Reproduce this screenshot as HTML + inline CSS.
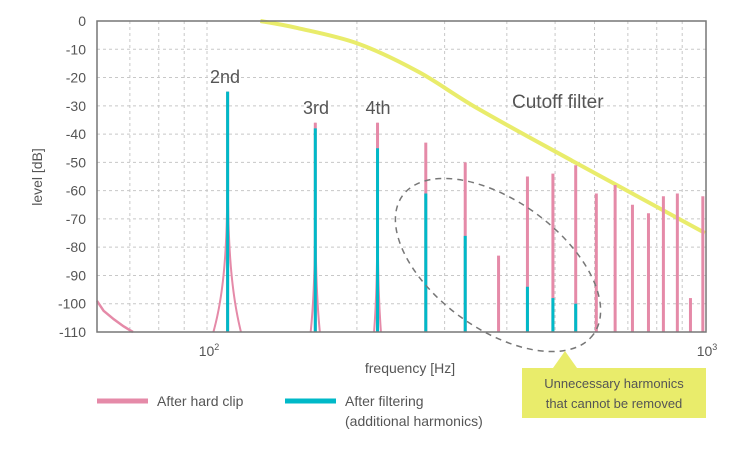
<!DOCTYPE html>
<html><head><meta charset="utf-8"><style>
body{margin:0;background:#fff;width:750px;height:450px;overflow:hidden;font-family:"Liberation Sans",sans-serif}
text{font-family:"Liberation Sans",sans-serif}
</style></head><body>
<svg id="chart" width="750" height="450" xmlns="http://www.w3.org/2000/svg">
<g id="grid"></g>
<g id="marks"></g>
<rect x="97" y="21" width="609" height="311" fill="none" stroke="#777" stroke-width="1.5"/>
<g id="axes"></g>
<text x="410" y="373" font-size="14" fill="#555" text-anchor="middle">frequency [Hz]</text>
<text transform="translate(42,177) rotate(-90)" font-size="14" fill="#555" text-anchor="middle">level [dB]</text>
<text x="225" y="83" font-size="18" fill="#555" text-anchor="middle">2nd</text>
<text x="316" y="114" font-size="18" fill="#555" text-anchor="middle">3rd</text>
<text x="378" y="114" font-size="18" fill="#555" text-anchor="middle">4th</text>
<text x="512" y="108" font-size="19" fill="#555">Cutoff filter</text>
<ellipse cx="498" cy="265" rx="118" ry="64" transform="rotate(36 498 265)" fill="none" stroke="#777" stroke-width="1.5" stroke-dasharray="6,5"/>
<g>
<polygon points="553,368 565,351 577,368" fill="#e9ec6b"/>
<rect x="522" y="368" width="184" height="50" fill="#e9ec6b"/>
<text x="614" y="388" font-size="13" fill="#555" text-anchor="middle">Unnecessary harmonics</text>
<text x="614" y="408" font-size="13" fill="#555" text-anchor="middle">that cannot be removed</text>
</g>
<g>
<line x1="97" y1="401" x2="148" y2="401" stroke="#e58aa8" stroke-width="5"/>
<text x="157" y="406" font-size="14" fill="#555">After hard clip</text>
<line x1="285" y1="401" x2="336" y2="401" stroke="#00b9c8" stroke-width="5"/>
<text x="345" y="406" font-size="14" fill="#555">After filtering</text>
<text x="345" y="426" font-size="14" fill="#555">(additional harmonics)</text>
</g>
</svg>
<script>
const fundamental = 55;
const harmonicNumbers = [2,3,4,5,6,7,8,9,10,11,12,13,14,15,16,17,18];
const clipLevels = [-25,-36,-36,-43,-50,-83,-55,-54,-51,-61,-58,-65,-68,-62,-61,-98,-62];
const filteredLevels = [-25,-38,-45,-61,-76,null,-94,-98,-100,null,null,null,null,null,null,null,null];
const skirtHalfWidthHz = [7,3.5,3.5];
const fundamentalSkirtF = [59,62,65,68,71];
const fundamentalSkirtDb = [-99,-102.5,-105.5,-108,-110];
const cutoffF = [128,152,201,266,350,542,1000];
const cutoffDb = [0,-2.5,-8,-18,-31,-49.5,-75];
const yTicks = [0,-10,-20,-30,-40,-50,-60,-70,-80,-90,-100,-110];
const xGrid = [70,80,90,100,200,300,400,500,600,700,800,900];

const NS="http://www.w3.org/2000/svg";
const X0=97,X1=706,Y0=21,Y1=332;
function x(f){return 207+498*(Math.log10(f)-2);}
function y(db){return Y0+(0-db)/110*(Y1-Y0);}
function mk(tag,attrs,parent){const e=document.createElementNS(NS,tag);for(const k in attrs)e.setAttribute(k,attrs[k]);parent.appendChild(e);return e;}
const grid=document.getElementById('grid'),marks=document.getElementById('marks'),axes=document.getElementById('axes');
yTicks.forEach(t=>{
  if(t!==0&&t!==-110){const l=mk('line',{x1:X0,x2:X1,y1:y(t),y2:y(t),stroke:'#c8c8c8','stroke-dasharray':'3,3'},grid);
  
  }
  const tx=mk('text',{x:86,y:y(t)+5,'font-size':14,fill:'#555','text-anchor':'end'},axes);
  tx.textContent=t;
  
  
});
xGrid.forEach(f=>{
  const l=mk('line',{x1:x(f),x2:x(f),y1:Y0,y2:Y1,stroke:'#c8c8c8','stroke-dasharray':'3,3'},grid);
  
  
});
[[100,'2'],[1000,'3']].forEach(([f,e])=>{
  const t=mk('text',{x:x(f)+2,y:356,'font-size':14,fill:'#555','text-anchor':'middle'},axes);
  t.innerHTML='10<tspan dy="-6" font-size="9">'+e+'</tspan>';
  
  
});
// cutoff filter (Catmull-Rom smoothing through data points)
const pts=cutoffF.map((f,i)=>[x(f),y(cutoffDb[i])]);
let d='M'+pts[0][0]+','+pts[0][1];
for(let i=0;i<pts.length-1;i++){
  const p0=pts[Math.max(0,i-1)],p1=pts[i],p2=pts[i+1],p3=pts[Math.min(pts.length-1,i+2)];
  const c1=[p1[0]+(p2[0]-p0[0])/6,p1[1]+(p2[1]-p0[1])/6],c2=[p2[0]-(p3[0]-p1[0])/6,p2[1]-(p3[1]-p1[1])/6];
  d+='C'+c1[0]+','+c1[1]+' '+c2[0]+','+c2[1]+' '+p2[0]+','+p2[1];
}
const cp=mk('path',{d:d,fill:'none',stroke:'#e9ec6b','stroke-width':4,'stroke-linejoin':'round'},marks);


// fundamental skirt
d='';fundamentalSkirtF.forEach((f,i)=>{d+=(i?'L':'M')+Math.max(X0,x(f))+','+y(fundamentalSkirtDb[i]);});
const fs=mk('path',{d:d,fill:'none',stroke:'#e58aa8','stroke-width':2.5},marks);


// skirts
skirtHalfWidthHz.forEach((hw,i)=>{
  const f0=fundamental*harmonicNumbers[i],pk=clipLevels[i];let p='';
  for(let k=-60;k<=60;k++){const df=hw*k/60;const lv=pk-(pk+110)*Math.pow(Math.abs(df)/hw,0.22);p+=(p?'L':'M')+x(f0+df).toFixed(2)+','+y(lv).toFixed(2);}
  const s=mk('path',{d:p,fill:'none',stroke:'#e58aa8','stroke-width':2},marks);
  
  
});
harmonicNumbers.forEach((n,i)=>{
  const xf=x(fundamental*n);
  const b=mk('line',{x1:xf,x2:xf,y1:Y1,y2:y(clipLevels[i]),stroke:'#e58aa8','stroke-width':3},marks);
  
  
  if(filteredLevels[i]!==null){
    const c=mk('line',{x1:xf,x2:xf,y1:Y1,y2:y(filteredLevels[i]),stroke:'#00b9c8','stroke-width':3},marks);
    
    
  }
});
</script>
</body></html>
